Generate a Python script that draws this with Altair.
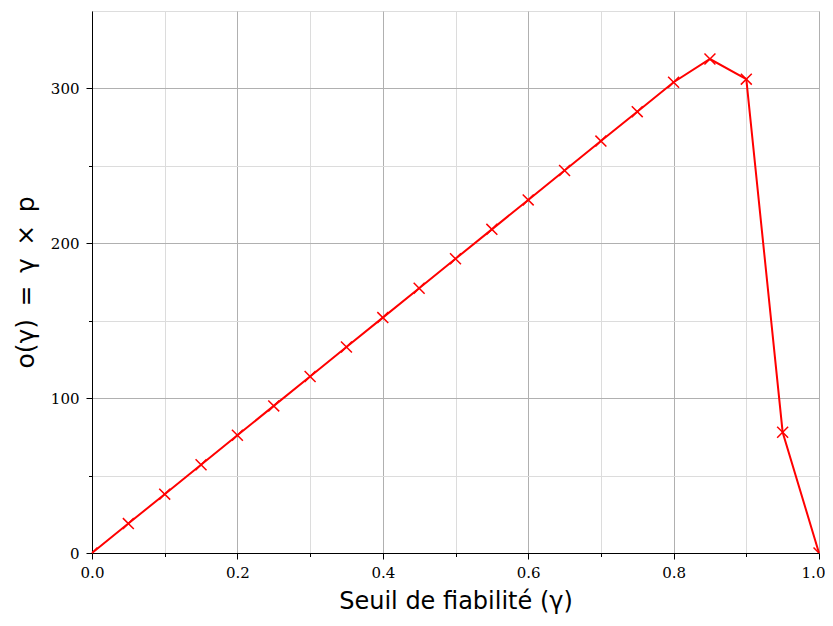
import altair as alt
import pandas as pd

gamma = [0.0, 0.05, 0.10, 0.15, 0.20, 0.25, 0.30, 0.35, 0.40, 0.45, 0.50,
         0.55, 0.60, 0.65, 0.70, 0.75, 0.80, 0.85, 0.90, 0.95, 1.0]
objective = [0, 19, 38, 57, 76, 95, 114, 133, 152, 171, 190,
             209, 228, 247, 266, 285, 304, 319, 306, 78, 0]

x_major = [0.0, 0.2, 0.4, 0.6, 0.8, 1.0]
x_minor = [0.1, 0.3, 0.5, 0.7, 0.9]
y_major = [0, 100, 200, 300]
y_minor = [50, 150, 250]

df = pd.DataFrame({"gamma": gamma, "obj": objective})

LABEL_FONT = "DejaVu Serif"
TITLE_FONT = "DejaVu Sans"

xs = alt.Scale(domain=[0, 1], nice=False, zero=False)
ys = alt.Scale(domain=[0, 350], nice=False, zero=False)

base = alt.Chart(df)

minor = base.mark_point(opacity=0).encode(
    x=alt.X("gamma:Q", scale=xs, axis=alt.Axis(
        orient="bottom", values=x_minor, labels=False, title=None,
        tickSize=3.5, tickColor="black", domain=False,
        grid=True, gridColor="#dcdcdc", gridWidth=1)),
    y=alt.Y("obj:Q", scale=ys, axis=alt.Axis(
        orient="left", values=y_minor, labels=False, title=None,
        tickSize=3.5, tickColor="black", domain=False,
        grid=True, gridColor="#dcdcdc", gridWidth=1)),
)

line = base.mark_line(color="#ff0000", strokeWidth=2).encode(
    x=alt.X("gamma:Q", scale=xs, axis=alt.Axis(
        orient="bottom", values=x_major, format=".1f",
        title="Seuil de fiabilité (γ)", titleFont=TITLE_FONT, titleFontSize=24,
        titleFontWeight="normal", titleColor="black", titlePadding=9,
        labelFont=LABEL_FONT, labelFontSize=15, labelColor="black", labelPadding=6,
        labelFlush=False,
        labelOffset={"condition": {"test": "datum.value >= 1", "value": -6}, "value": 0},
        tickSize=6, tickColor="black", tickWidth=1,
        domainColor="black", domainWidth=1,
        grid=True, gridColor="#b0b0b0", gridWidth=1)),
    y=alt.Y("obj:Q", scale=ys, axis=alt.Axis(
        orient="left", values=y_major, format="d",
        title="o(γ)\u2002=\u2002γ\u2002×\u2002p", titleFont=TITLE_FONT, titleFontSize=25,
        titleFontWeight="normal", titleColor="black", titlePadding=12,
        labelFont=LABEL_FONT, labelFontSize=15, labelColor="black", labelPadding=7,
        labelFlush=False,
        tickSize=6, tickColor="black", tickWidth=1,
        domainColor="black", domainWidth=1,
        grid=True, gridColor="#b0b0b0", gridWidth=1)),
)

points = base.mark_point(
    shape="M-1,-1L1,1M-1,1L1,-1", filled=False, color="#ff0000",
    strokeWidth=1.5, size=120, opacity=1, clip=True,
).encode(
    x=alt.X("gamma:Q", scale=xs, axis=None),
    y=alt.Y("obj:Q", scale=ys, axis=None),
)

chart = alt.layer(minor, line, points).resolve_axis(
    x="independent", y="independent"
).properties(
    width=727, height=542,
    autosize=alt.AutoSizeParams(type="none"),
    padding={"left": 84, "top": 3, "right": 6, "bottom": 65},
).configure_view(
    stroke="black", strokeWidth=1
).configure(background="white")

chart.save("out.html", embed_options={"renderer": "svg", "actions": False})
